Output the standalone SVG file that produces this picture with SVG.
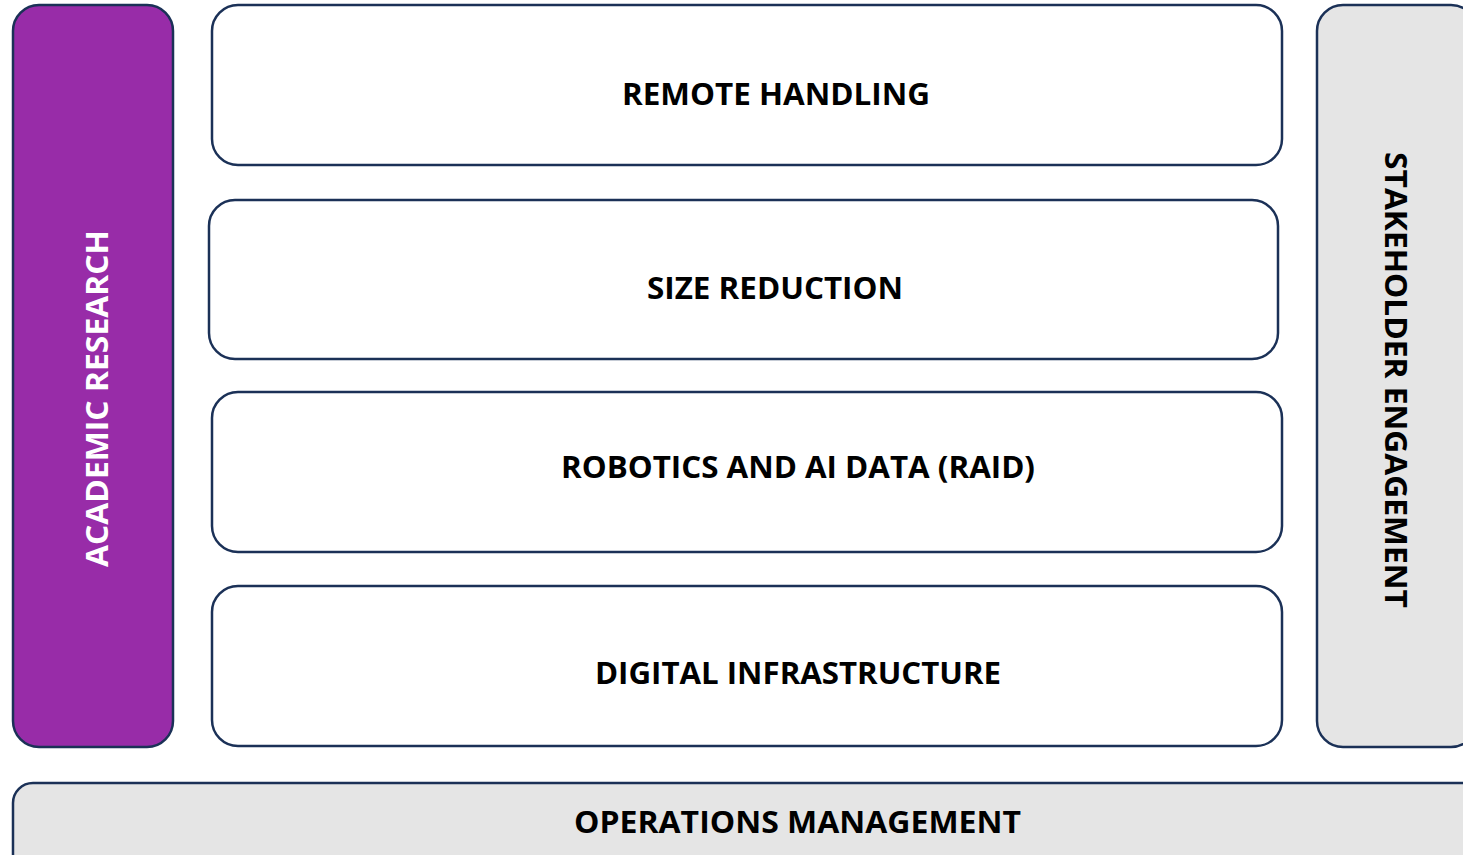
<svg xmlns="http://www.w3.org/2000/svg" width="1463" height="855" viewBox="0 0 1463 855">
<style>
.box{stroke:#1b3157;stroke-width:2.5;}
.w{fill:#ffffff;}
.g{fill:#e5e5e5;}
.p{fill:#982ca8;}
.t{font-family:"Open Sans","Liberation Sans",Arial,sans-serif;font-weight:bold;font-size:30px;fill:#000000;}
.tw{fill:#ffffff;}
</style>
<rect width="1463" height="855" fill="#ffffff"/>
<g id="academic-research">
<rect class="box p" x="13" y="5" width="160" height="742" rx="26"/>
<text class="t tw" transform="translate(108,567) rotate(-90)" textLength="337" lengthAdjust="spacingAndGlyphs">ACADEMIC RESEARCH</text>
</g>
<g id="remote-handling">
<rect class="box w" x="212" y="5" width="1070" height="160" rx="26"/>
<text class="t" x="622" y="105" textLength="308" lengthAdjust="spacingAndGlyphs">REMOTE HANDLING</text>
</g>
<g id="size-reduction">
<rect class="box w" x="209" y="200" width="1069" height="159" rx="26"/>
<text class="t" x="647" y="299" textLength="256" lengthAdjust="spacingAndGlyphs">SIZE REDUCTION</text>
</g>
<g id="raid">
<rect class="box w" x="212" y="392" width="1070" height="160" rx="26"/>
<text class="t" x="561" y="478" textLength="474" lengthAdjust="spacingAndGlyphs">ROBOTICS AND AI DATA (RAID)</text>
</g>
<g id="digital-infrastructure">
<rect class="box w" x="212" y="586" width="1070" height="160" rx="26"/>
<text class="t" x="595" y="684" textLength="406" lengthAdjust="spacingAndGlyphs">DIGITAL INFRASTRUCTURE</text>
</g>
<g id="stakeholder-engagement">
<rect class="box g" x="1317" y="5" width="160" height="742" rx="26"/>
<text class="t" transform="translate(1385,152) rotate(90)" textLength="456" lengthAdjust="spacingAndGlyphs">STAKEHOLDER ENGAGEMENT</text>
</g>
<g id="operations-management">
<rect class="box g" x="13" y="783" width="1480" height="120" rx="20"/>
<text class="t" x="574" y="833" textLength="447" lengthAdjust="spacingAndGlyphs">OPERATIONS MANAGEMENT</text>
</g>
<g id="connectors"></g>
</svg>
